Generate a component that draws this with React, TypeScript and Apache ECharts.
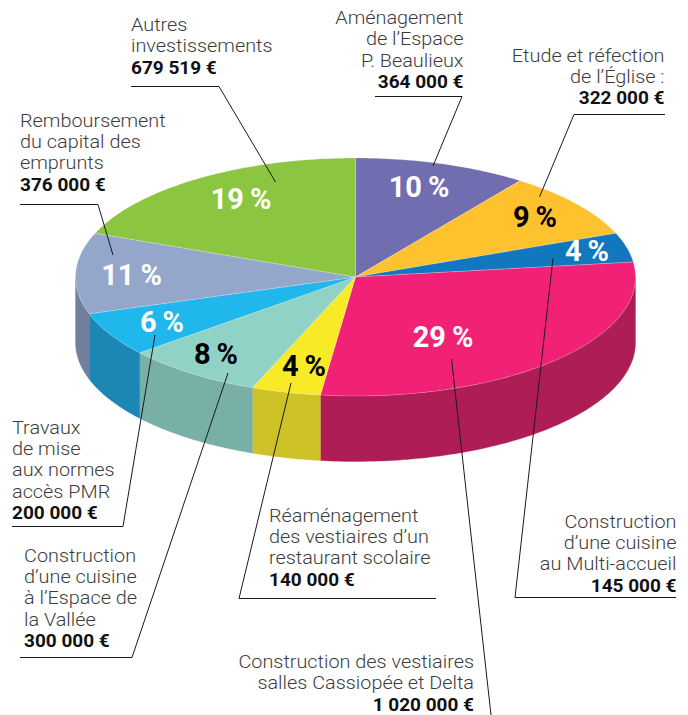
import React, { useEffect, useRef } from "react";
import * as echarts from "echarts";

// Slices clockwise from 12 o'clock
const percents = [10, 9, 4, 29, 4, 8, 6, 11, 19];
const topColors = ["#706DB0", "#FFC22F", "#1177BE", "#F12276", "#F8EA27", "#90D2C5", "#1FB7EC", "#94A6CA", "#8CC540"];
const wallColors = ["#5A578C", "#CC9B26", "#0E5F98", "#AE1D56", "#CFC228", "#78AFA6", "#1C87B4", "#717F9C", "#709E33"];
const percentTextColors = ["#fff", "#000", "#fff", "#fff", "#000", "#000", "#fff", "#fff", "#fff"];

const categories = [
  ["Aménagement", "de l’Espace", "P. Beaulieux"],
  ["Etude et réfection", "de l’Église :"],
  ["Construction", "d’une cuisine", "au Multi-accueil"],
  ["Construction des vestiaires", "salles Cassiopée et Delta"],
  ["Réaménagement", "des vestiaires d’un", "restaurant scolaire"],
  ["Construction", "d’une cuisine", "à l’Espace de", "la Vallée"],
  ["Travaux", "de mise", "aux normes", "accès PMR"],
  ["Remboursement", "du capital des", "emprunts"],
  ["Autres", "investissements"],
];
const amounts = ["364 000 €", "322 000 €", "145 000 €", "1 020 000 €", "140 000 €", "300 000 €", "200 000 €", "376 000 €", "679 519 €"];

// Layout (not data)
const CX = 355.5, CY = 277, RX = 280, RY = 119, DEPTH = 65.5;
const labelAnchors: [number, number, "left" | "right", number][] = [
  [463.5, 24, "right", 21.5],
  [664.5, 62, "right", 21],
  [676.5, 528, "right", 21.3],
  [474, 668, "right", 21.5],
  [269, 522, "left", 21.3],
  [24, 562, "left", 21.3],
  [12, 434, "left", 21.3],
  [20, 127, "left", 21.3],
  [131, 31, "left", 21.5],
];
const percentPos: [number, number][] = [
  [419, 197], [535, 227], [587, 261], [443, 347], [304, 376], [216, 364], [162, 332], [131.5, 285], [241, 209],
];
const leaders: [number, number][][] = [
  [[375, 96.5], [462, 96.5], [433, 166]],
  [[665, 114.5], [574, 114.5], [539.5, 197]],
  [[676, 597.5], [515, 597.5], [553, 258]],
  [[451.5, 359], [491, 715]],
  [[436, 598.5], [239, 598.5], [291, 383]],
  [[20, 657.5], [132, 657.5], [228, 373]],
  [[12, 526.5], [123, 526.5], [155, 335]],
  [[20, 204.5], [98, 204.5], [113, 255]],
  [[131, 86.5], [219, 86.5], [275.5, 182]],
];

const FONT = "Roboto";
const TEXT_COLOR = "#3c3c3c";
const BASE_FIX = 0.355;
const LIGHT_SIZE = 19;
const LIGHT_SCALE = 1.045;
const BOLD_SIZE = 19;

const rad = (p: number) => (p / 100) * Math.PI * 2;
const pt = (t: number, dy = 0): number[] => [CX + RX * Math.sin(t), CY - RY * Math.cos(t) + dy];

function arc(a: number, b: number, dy = 0) {
  const n = Math.max(2, Math.ceil(((b - a) * 180) / Math.PI));
  const out: number[][] = [];
  for (let i = 0; i <= n; i++) out.push(pt(a + ((b - a) * i) / n, dy));
  return out;
}

export default function App() {
  const ref = useRef<HTMLDivElement>(null);
  useEffect(() => {
    document.body.style.margin = "0";
    const chart = echarts.init(ref.current!, null, { renderer: "svg" });
    const starts: number[] = [];
    percents.reduce((s, v, i) => { starts[i] = s; return s + v; }, 0);

    const graphics: any[] = [];
    leaders.forEach((pts) =>
      graphics.push({
        type: "polyline", z: 100,
        shape: { points: pts },
        style: { stroke: "#1a1a1a", lineWidth: 1, fill: "none" },
      })
    );
    categories.forEach((lines, i) => {
      const [x, y, align, step] = labelAnchors[i];
      lines.forEach((l, j) =>
        graphics.push({
          type: "text", z: 110, x, y: y + j * step - LIGHT_SIZE * BASE_FIX, scaleX: LIGHT_SCALE,
          style: { text: l, font: `300 ${LIGHT_SIZE}px ${FONT}`, fill: TEXT_COLOR, align, verticalAlign: "middle" },
        })
      );
      graphics.push({
        type: "text", z: 110, x, y: y + lines.length * step - BOLD_SIZE * BASE_FIX,
        style: { text: amounts[i], font: `700 ${BOLD_SIZE}px ${FONT}`, fill: "#111", align, verticalAlign: "middle" },
      });
    });
    percents.forEach((p, i) => {
      const [x, y] = percentPos[i];
      graphics.push({
        type: "text", z: 105, x, y: y - 29 * BASE_FIX,
        style: { text: `${p}\u2009%`, font: `700 29px ${FONT}`, fill: percentTextColors[i], align: "center", verticalAlign: "middle" },
      });
    });

    chart.setOption({
      animation: false,
      backgroundColor: "#fff",
      graphic: { elements: graphics },
      series: [
        {
          type: "custom",
          coordinateSystem: "none",
          silent: true,
          clip: false,
          data: percents.map((p, i) => [starts[i], p, i]),
          renderItem: (_: any, api: any) => {
            const s = api.value(0), v = api.value(1), i = api.value(2);
            const a = rad(s), b = rad(s + v);
            const children: any[] = [];
            const wa = Math.max(a, Math.PI / 2), wb = Math.min(b, Math.PI * 1.5);
            if (wb > wa) {
              const top = arc(wa, wb);
              const bottom = arc(wa, wb, DEPTH).reverse();
              children.push({
                type: "polygon",
                shape: { points: [...top, ...bottom] },
                style: { fill: wallColors[i], stroke: wallColors[i], lineWidth: 0.3 },
              });
            }
            children.push({
              type: "polygon",
              shape: { points: [[CX, CY], ...arc(a, b)] },
              style: { fill: topColors[i], stroke: "rgba(255,255,255,0.35)", lineWidth: 0.6 },
            });
            return { type: "group", children };
          },
        },
      ],
    });
    return () => chart.dispose();
  }, []);
  return <div ref={ref} style={{ position: "fixed", left: 0, top: 0, width: 688, height: 715 }} />;
}
